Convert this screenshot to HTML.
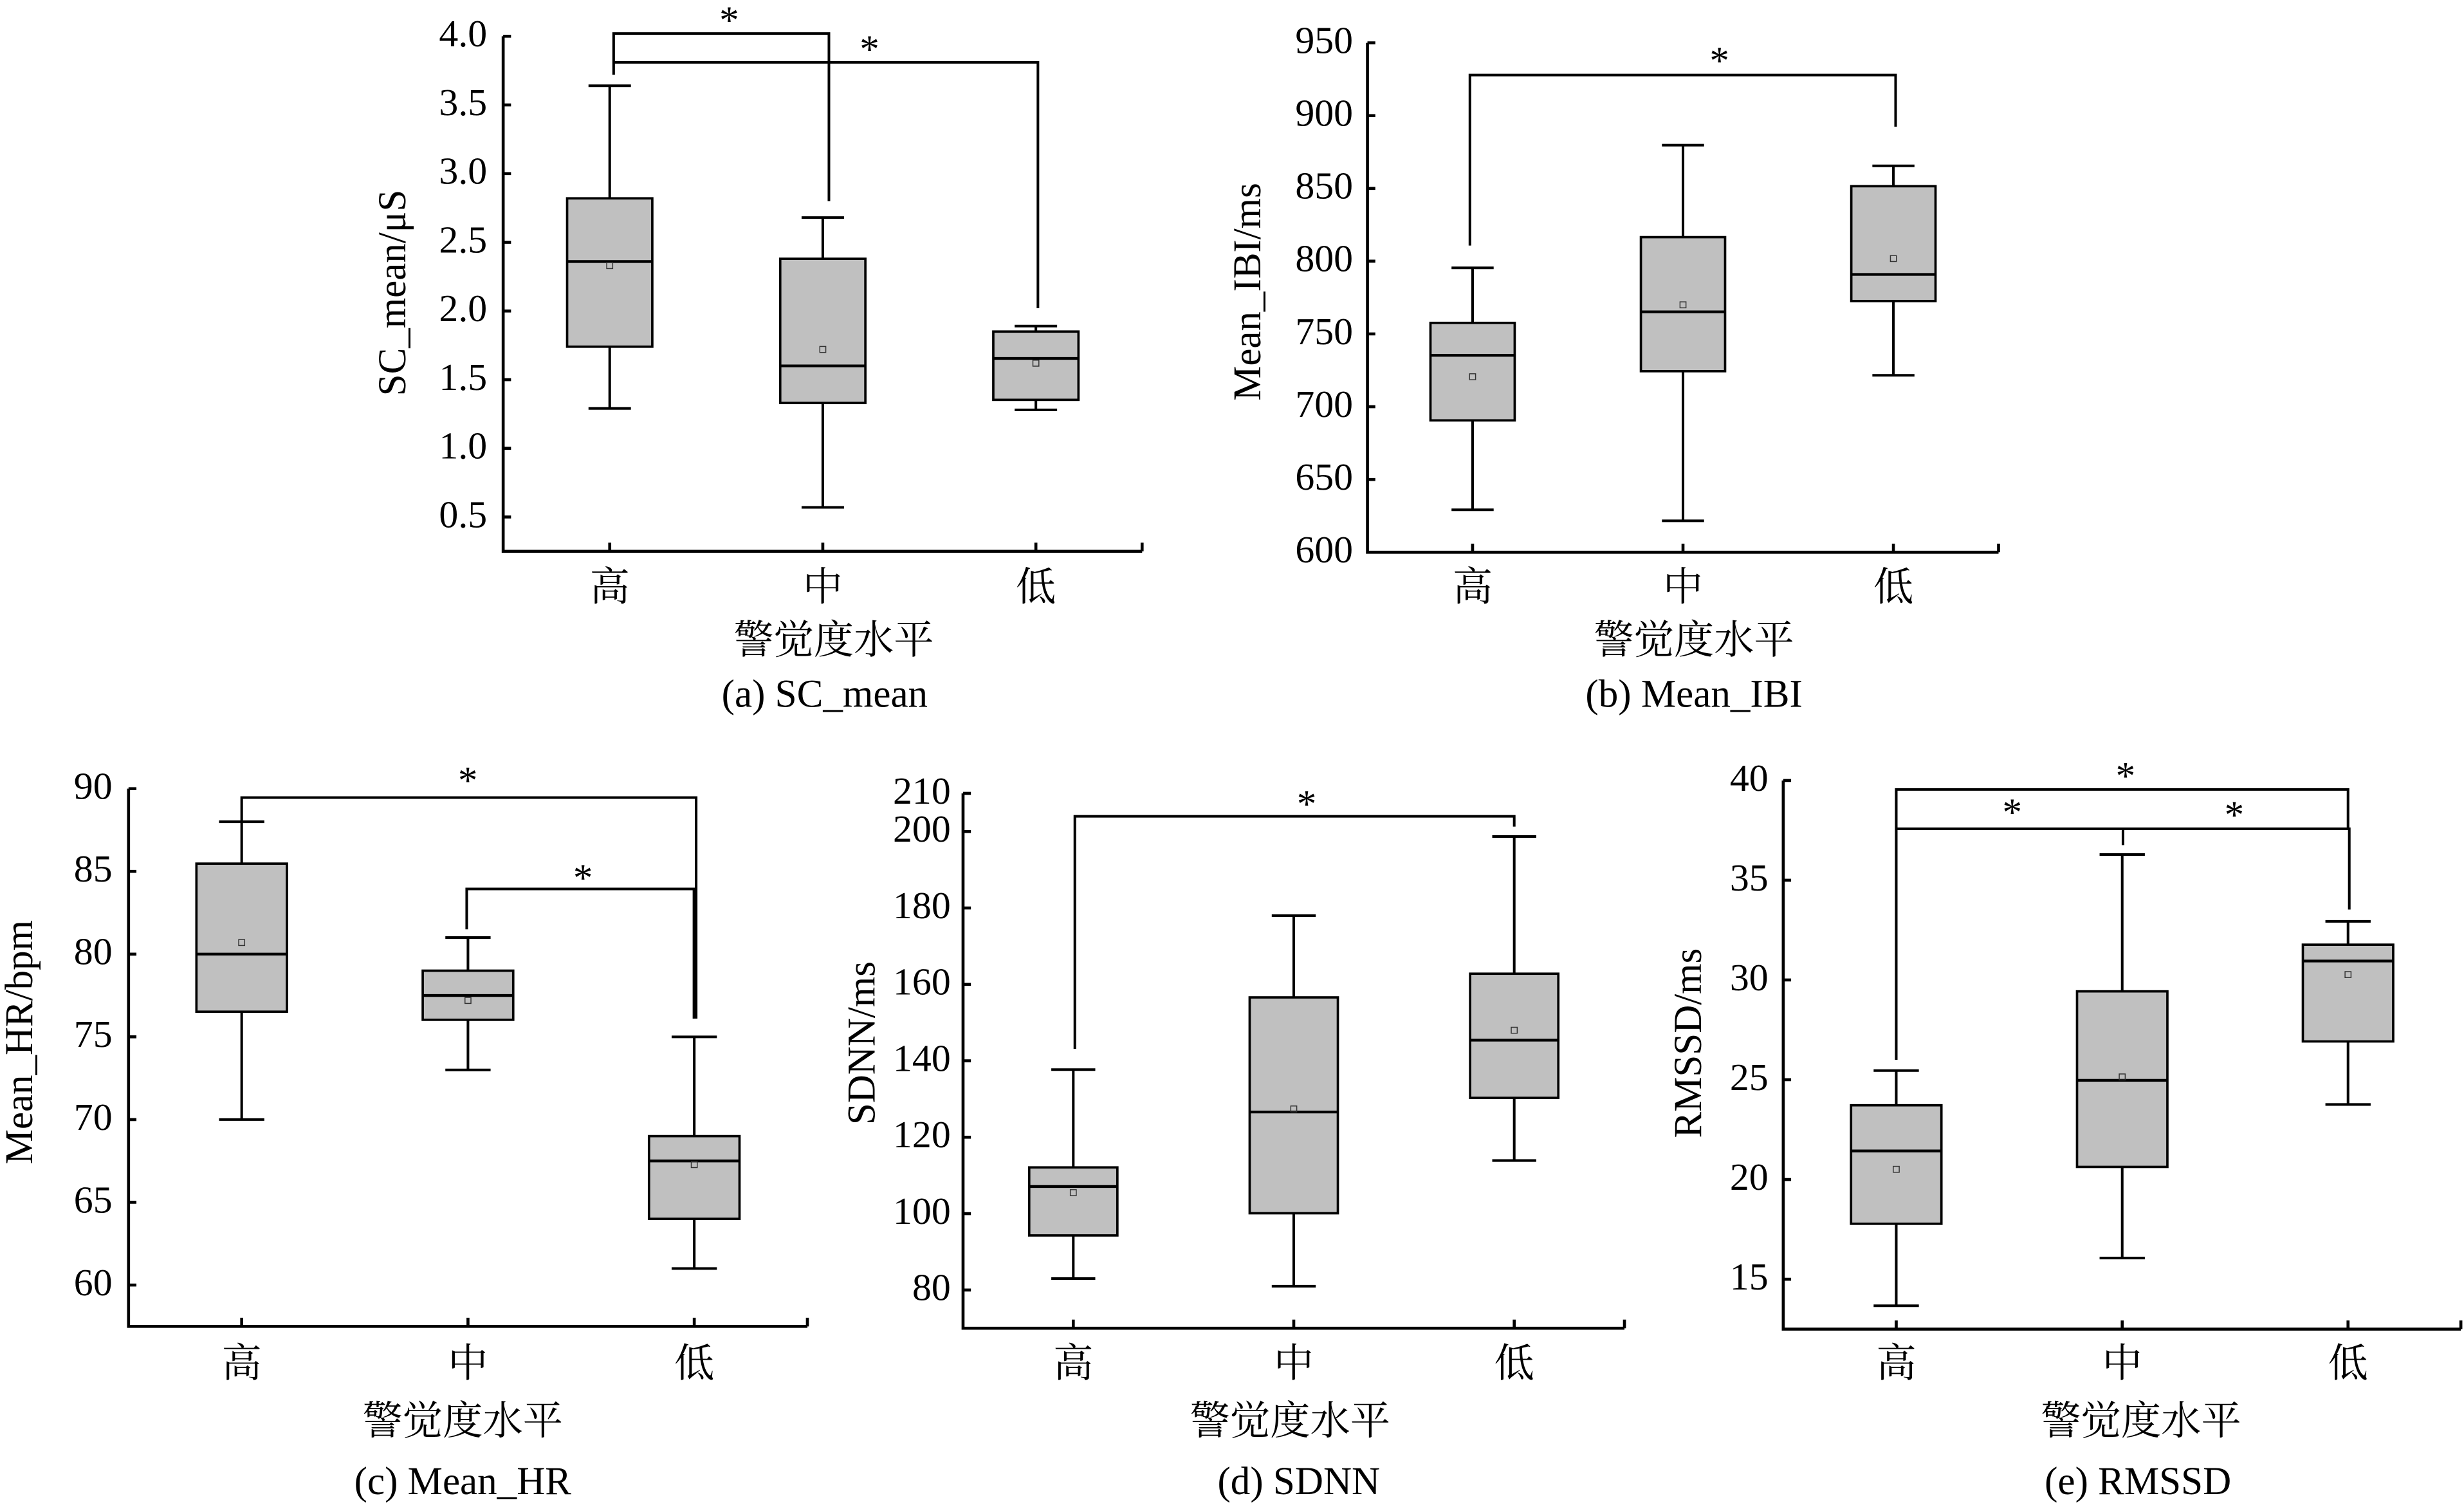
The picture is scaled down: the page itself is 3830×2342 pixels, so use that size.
<!DOCTYPE html>
<html><head><meta charset="utf-8"><style>
html,body{margin:0;padding:0;background:#fff;}
svg{display:block;}
text{font-family:"Liberation Serif","Noto Serif CJK SC",serif;fill:#000;}
.t{font-size:25px;}
.n{font-size:24.5px;text-anchor:end;}
.m{text-anchor:middle;}
.cj{font-size:25.5px;text-anchor:middle;}
.ax{fill:none;stroke:#000;stroke-width:1.9;}
.bx{fill:#c0c0c0;stroke:#000;stroke-width:1.5;}
.ln{fill:none;stroke:#000;stroke-width:1.65;}
.md{fill:none;stroke:#000;stroke-width:1.75;}
.mn{fill:none;stroke:#333;stroke-width:0.6;}
.st{font-size:25px;text-anchor:middle;}
</style></head><body>
<svg width="3830" height="2342" viewBox="0 0 1568 960" preserveAspectRatio="none" xmlns="http://www.w3.org/2000/svg">
<rect x="0" y="0" width="1568" height="960" fill="#fff"/>

<!-- ============ Panel (a) SC_mean ============ -->
<path class="ax" d="M320.2,23.1 V351.2 H726.8"/>
<path class="ax" d="M320.2,23.1 h5 M320.2,66.85 h5 M320.2,110.6 h5 M320.2,154.35 h5 M320.2,198.1 h5 M320.2,241.85 h5 M320.2,285.6 h5 M320.2,329.35 h5 M388,351.2 v-5.5 M523.6,351.2 v-5.5 M659.2,351.2 v-5.5 M726.8,351.2 v-5.5"/>
<g class="n">
<text x="310" y="29.6">4.0</text>
<text x="310" y="73.35">3.5</text>
<text x="310" y="117.1">3.0</text>
<text x="310" y="160.85">2.5</text>
<text x="310" y="204.6">2.0</text>
<text x="310" y="248.35">1.5</text>
<text x="310" y="292.1">1.0</text>
<text x="310" y="335.85">0.5</text>
</g>
<!-- 高 -->
<path class="ln" d="M388,126.35 V54.6 M374.5,54.6 H401.5 M388,220.85 V260.2 M374.5,260.2 H401.5"/>
<rect class="bx" x="360.9" y="126.35" width="54.2" height="94.5"/>
<path class="md" d="M360.9,166.6 H415.1"/>
<rect class="mn" x="386.1" y="167.3" width="3.8" height="3.8"/>
<!-- 中 -->
<path class="ln" d="M523.6,164.85 V138.6 M510.1,138.6 H537.1 M523.6,256.7 V323.2 M510.1,323.2 H537.1"/>
<rect class="bx" x="496.5" y="164.85" width="54.2" height="91.85"/>
<path class="md" d="M496.5,233.1 H550.7"/>
<rect class="mn" x="521.7" y="220.7" width="3.8" height="3.8"/>
<!-- 低 -->
<path class="ln" d="M659.2,211.2 V207.7 M645.7,207.7 H672.7 M659.2,254.7 V261.1 M645.7,261.1 H672.7"/>
<rect class="bx" x="632.1" y="211.2" width="54.2" height="43.5"/>
<path class="md" d="M632.1,228.3 H686.3"/>
<rect class="mn" x="657.3" y="229.45" width="3.8" height="3.8"/>
<!-- brackets -->
<path class="ln" d="M390.5,47.6 V21.35 H527.5 V128.1"/>
<path class="ln" d="M390.5,39.7 H660.5 V196.35"/>
<text class="st" x="464" y="21.1">*</text>
<text class="st" x="553.3" y="39.5">*</text>
<!-- labels -->
<g class="cj">
<text x="388" y="382.4">高</text>
<text x="523.6" y="382.4">中</text>
<text x="659.2" y="382.4">低</text>
<text x="530.6" y="416.2">警觉度水平</text>
</g>
<text class="t m" x="524.8" y="450.2">(a) SC_mean</text>
<text class="t m" transform="translate(258,186.5) rotate(-90)">SC_mean/μS</text>

<!-- ============ Panel (b) Mean_IBI ============ -->
<path class="ax" d="M870.2,27.3 V351.8 H1271.8"/>
<path class="ax" d="M870.2,27.3 h5 M870.2,73.66 h5 M870.2,120.01 h5 M870.2,166.37 h5 M870.2,212.73 h5 M870.2,259.09 h5 M870.2,305.44 h5 M937.1,351.8 v-5.5 M1071,351.8 v-5.5 M1204.9,351.8 v-5.5 M1271.8,351.8 v-5.5"/>
<g class="n">
<text x="861" y="33.8">950</text>
<text x="861" y="80.16">900</text>
<text x="861" y="126.51">850</text>
<text x="861" y="172.87">800</text>
<text x="861" y="219.23">750</text>
<text x="861" y="265.59">700</text>
<text x="861" y="311.94">650</text>
<text x="861" y="358.3">600</text>
</g>
<!-- 高 -->
<path class="ln" d="M937.1,205.68 V170.63 M923.7,170.63 H950.5 M937.1,267.8 V324.73 M923.7,324.73 H950.5"/>
<rect class="bx" x="910.3" y="205.68" width="53.6" height="62.12"/>
<path class="md" d="M910.3,226.36 H963.9"/>
<rect class="mn" x="935.2" y="238.09" width="3.8" height="3.8"/>
<!-- 中 -->
<path class="ln" d="M1071,151.07 V92.48 M1057.6,92.48 H1084.4 M1071,236.46 V331.77 M1057.6,331.77 H1084.4"/>
<rect class="bx" x="1044.2" y="151.07" width="53.6" height="85.39"/>
<path class="md" d="M1044.2,198.64 H1097.8"/>
<rect class="mn" x="1069.1" y="192.29" width="3.8" height="3.8"/>
<!-- 低 -->
<path class="ln" d="M1204.9,118.62 V105.64 M1191.5,105.64 H1218.3 M1204.9,191.77 V239.06 M1191.5,239.06 H1218.3"/>
<rect class="bx" x="1178.1" y="118.62" width="53.6" height="73.15"/>
<path class="md" d="M1178.1,174.81 H1231.7"/>
<rect class="mn" x="1203" y="162.8" width="3.8" height="3.8"/>
<path class="ln" d="M935.4,156.45 V47.79 H1206.3 V80.7"/>
<text class="st" x="1094.2" y="47">*</text>
<g class="cj">
<text x="937.1" y="382.4">高</text>
<text x="1071" y="382.4">中</text>
<text x="1204.9" y="382.4">低</text>
<text x="1078" y="416.2">警觉度水平</text>
</g>
<text class="t m" x="1078" y="450.2">(b) Mean_IBI</text>
<text class="t m" transform="translate(802,185.9) rotate(-90)">Mean_IBI/ms</text>

<!-- ============ Panel (c) Mean_HR ============ -->
<path class="ax" d="M81.8,502.4 V844.95 H513.8"/>
<path class="ax" d="M81.8,502.4 h5 M81.8,555.1 h5 M81.8,607.8 h5 M81.8,660.5 h5 M81.8,713.2 h5 M81.8,765.9 h5 M81.8,818.6 h5 M153.8,844.95 v-5.5 M297.8,844.95 v-5.5 M441.8,844.95 v-5.5 M513.8,844.95 v-5.5"/>
<g class="n">
<text x="71.5" y="508.9">90</text>
<text x="71.5" y="561.6">85</text>
<text x="71.5" y="614.3">80</text>
<text x="71.5" y="667">75</text>
<text x="71.5" y="719.7">70</text>
<text x="71.5" y="772.4">65</text>
<text x="71.5" y="825.1">60</text>
</g>
<!-- 高 -->
<path class="ln" d="M153.8,550.15 V523.48 M139.4,523.48 H168.2 M153.8,644.48 V713.2 M139.4,713.2 H168.2"/>
<rect class="bx" x="125" y="550.15" width="57.6" height="94.33"/>
<path class="md" d="M125,607.8 H182.6"/>
<rect class="mn" x="151.9" y="598.52" width="3.8" height="3.8"/>
<!-- 中 -->
<path class="ln" d="M297.8,618.34 V597.26 M283.4,597.26 H312.2 M297.8,649.64 V681.58 M283.4,681.58 H312.2"/>
<rect class="bx" x="269" y="618.34" width="57.6" height="31.3"/>
<path class="md" d="M269,634.15 H326.6"/>
<rect class="mn" x="295.9" y="635.41" width="3.8" height="3.8"/>
<!-- 低 -->
<path class="ln" d="M441.8,723.74 V660.5 M427.4,660.5 H456.2 M441.8,776.44 V808.06 M427.4,808.06 H456.2"/>
<rect class="bx" x="413" y="723.74" width="57.6" height="52.7"/>
<path class="md" d="M413,739.55 H470.6"/>
<rect class="mn" x="439.9" y="739.97" width="3.8" height="3.8"/>
<path class="ln" d="M153.8,523.5 V508.09 H443 V648.9"/>
<path class="ln" d="M297,592 V566.27 H441.6 V648.9"/>
<text class="st" x="297.7" y="505.4">*</text>
<text class="st" x="371" y="567.5">*</text>
<g class="cj">
<text x="153.8" y="877">高</text>
<text x="297.8" y="877">中</text>
<text x="441.8" y="877">低</text>
<text x="294.5" y="913.7">警觉度水平</text>
</g>
<text class="t m" x="294.5" y="951.7">(c) Mean_HR</text>
<text class="t m" transform="translate(20.5,663.9) rotate(-90)">Mean_HR/bpm</text>

<!-- ============ Panel (d) SDNN ============ -->
<path class="ax" d="M612.85,505.4 V846.14 H1033.75"/>
<path class="ax" d="M612.85,505.4 h5 M612.85,529.74 h5 M612.85,578.42 h5 M612.85,627.09 h5 M612.85,675.77 h5 M612.85,724.45 h5 M612.85,773.12 h5 M612.85,821.8 h5 M683,846.14 v-5.5 M823.3,846.14 v-5.5 M963.6,846.14 v-5.5 M1033.75,846.14 v-5.5"/>
<g class="n">
<text x="605" y="511.9">210</text>
<text x="605" y="536.24">200</text>
<text x="605" y="584.92">180</text>
<text x="605" y="633.59">160</text>
<text x="605" y="682.27">140</text>
<text x="605" y="730.95">120</text>
<text x="605" y="779.62">100</text>
<text x="605" y="828.3">80</text>
</g>
<!-- 高 -->
<path class="ln" d="M683,743.67 V681.37 M669,681.37 H697 M683,787 V814.5 M669,814.5 H697"/>
<rect class="bx" x="654.94" y="743.67" width="56.12" height="43.33"/>
<path class="md" d="M654.94,755.84 H711.06"/>
<rect class="mn" x="681.1" y="757.84" width="3.8" height="3.8"/>
<!-- 中 -->
<path class="ln" d="M823.3,635.37 V583.28 M809.3,583.28 H837.3 M823.3,772.88 V819.37 M809.3,819.37 H837.3"/>
<rect class="bx" x="795.24" y="635.37" width="56.12" height="137.51"/>
<path class="md" d="M795.24,708.38 H851.36"/>
<rect class="mn" x="821.4" y="704.54" width="3.8" height="3.8"/>
<!-- 低 -->
<path class="ln" d="M963.6,620.28 V532.9 M949.6,532.9 H977.6 M963.6,699.38 V739.29 M949.6,739.29 H977.6"/>
<rect class="bx" x="935.54" y="620.28" width="56.12" height="79.1"/>
<path class="md" d="M935.54,662.63 H991.66"/>
<rect class="mn" x="961.7" y="654.4" width="3.8" height="3.8"/>
<path class="ln" d="M684,668.22 V520 H963.6 V526.57"/>
<text class="st" x="831.5" y="520.3">*</text>
<g class="cj">
<text x="683" y="877">高</text>
<text x="823.3" y="877">中</text>
<text x="963.6" y="877">低</text>
<text x="821" y="913.7">警觉度水平</text>
</g>
<text class="t m" x="826.5" y="951.7">(d) SDNN</text>
<text class="t m" transform="translate(556.5,664.5) rotate(-90)">SDNN/ms</text>

<!-- ============ Panel (e) RMSSD ============ -->
<path class="ax" d="M1134.8,497.2 V846.67 H1566"/>
<path class="ax" d="M1134.8,497.2 h5 M1134.8,560.74 h5 M1134.8,624.28 h5 M1134.8,687.82 h5 M1134.8,751.36 h5 M1134.8,814.9 h5 M1206.7,846.67 v-5.5 M1350.5,846.67 v-5.5 M1494.2,846.67 v-5.5 M1566,846.67 v-5.5"/>
<g class="n">
<text x="1125.3" y="503.7">40</text>
<text x="1125.3" y="567.24">35</text>
<text x="1125.3" y="630.78">30</text>
<text x="1125.3" y="694.32">25</text>
<text x="1125.3" y="757.86">20</text>
<text x="1125.3" y="821.4">15</text>
</g>
<!-- 高 -->
<path class="ln" d="M1206.7,704.09 V681.97 M1192.3,681.97 H1221.1 M1206.7,779.57 V831.8 M1192.3,831.8 H1221.1"/>
<rect class="bx" x="1177.95" y="704.09" width="57.5" height="75.48"/>
<path class="md" d="M1177.95,733.19 H1235.45"/>
<rect class="mn" x="1204.8" y="742.98" width="3.8" height="3.8"/>
<!-- 中 -->
<path class="ln" d="M1350.5,631.52 V544.35 M1336.1,544.35 H1364.9 M1350.5,743.35 V801.43 M1336.1,801.43 H1364.9"/>
<rect class="bx" x="1321.75" y="631.52" width="57.5" height="111.83"/>
<path class="md" d="M1321.75,688.2 H1379.25"/>
<rect class="mn" x="1348.6" y="684.14" width="3.8" height="3.8"/>
<!-- 低 -->
<path class="ln" d="M1494.2,601.79 V586.92 M1479.8,586.92 H1508.6 M1494.2,663.42 V703.58 M1479.8,703.58 H1508.6"/>
<rect class="bx" x="1465.45" y="601.79" width="57.5" height="61.63"/>
<path class="md" d="M1465.45,612.21 H1522.95"/>
<rect class="mn" x="1492.3" y="618.95" width="3.8" height="3.8"/>
<path class="ln" d="M1206.7,675.11 V502.92 H1494.2 V527.95"/>
<path class="ln" d="M1206.7,527.95 H1495 V579.42 M1351,527.95 V538.37"/>
<text class="st" x="1352.6" y="502.5">*</text>
<text class="st" x="1280.5" y="525.8">*</text>
<text class="st" x="1421.8" y="527.3">*</text>
<g class="cj">
<text x="1206.7" y="877">高</text>
<text x="1350.5" y="877">中</text>
<text x="1494.2" y="877">低</text>
<text x="1362.5" y="913.7">警觉度水平</text>
</g>
<text class="t m" x="1360.5" y="951.7">(e) RMSSD</text>
<text class="t m" transform="translate(1082.5,664.5) rotate(-90)">RMSSD/ms</text>
</svg>
</body></html>
